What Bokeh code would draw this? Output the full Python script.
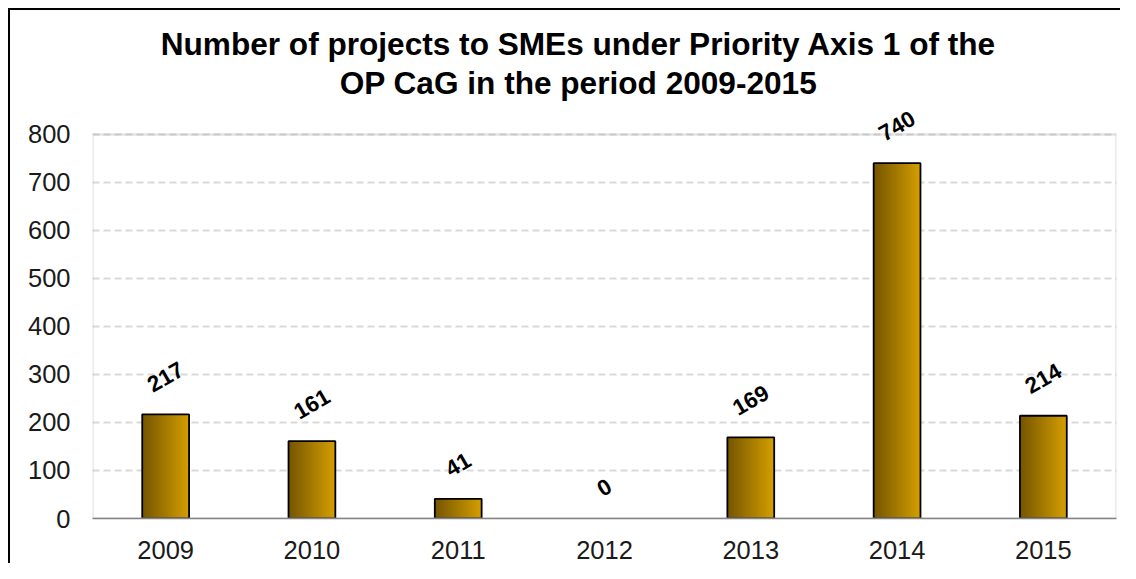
from bokeh.plotting import figure
from bokeh.models import (ColumnDataSource, FactorRange, Range1d, LabelSet, Label,
                          CDSView, BooleanFilter, BoxAnnotation)
from bokeh.transform import dodge
from bokeh.embed import file_html
from bokeh.resources import INLINE
from bokeh.core.properties import value

# ---- data ----
years = ["2009", "2010", "2011", "2012", "2013", "2014", "2015"]
projects = [217, 161, 41, 0, 169, 740, 214]
y_ticks = [0, 100, 200, 300, 400, 500, 600, 700, 800]
title_lines = ["Number of projects to SMEs under Priority Axis 1 of the",
               "OP CaG in the period 2009-2015"]

FONT = "Liberation Sans"
labels = [str(v) for v in projects]
# offset so that the rotated label's bounding box sits ~20px above the bar
yoff = [20.5 + (len(s) * 6.3 + 14.3) / 2 for s in labels]

src = ColumnDataSource(dict(year=years, value=projects, label=labels, yoff=yoff))

p = figure(x_range=FactorRange(*years), y_range=Range1d(0, 1058),
           width=1110, height=553, output_backend="svg", toolbar_location=None,
           min_border_left=82, min_border_right=14, min_border_top=0, min_border_bottom=55,
           background_fill_color="white", border_fill_color="white",
           styles={"box-sizing": "content-box",
                   "padding-left": "10px", "padding-top": "10px",
                   "background": "linear-gradient(#000,#000) 8px 8px / 2px 100% no-repeat, "
                                 "linear-gradient(#000,#000) 8px 8px / 100% 2px no-repeat, #ffffff"})
p.title = None

# gradient bars: overlapping slices, each from its left edge to the bar's right edge
BAR_W = 0.32
N = 40
left_rgb = (118, 86, 0)
right_rgb = (212, 158, 0)
for k in range(N):
    t = k / (N - 1)
    col = "#%02x%02x%02x" % tuple(int(round(a + (b - a) * t)) for a, b in zip(left_rgb, right_rgb))
    x_left = -BAR_W / 2 + BAR_W * k / N
    w = BAR_W / 2 - x_left
    p.vbar(x=dodge("year", x_left + w / 2, range=p.x_range), top="value", width=w,
           source=src, fill_color=col, line_color=None)

view = CDSView(filter=BooleanFilter([v > 0 for v in projects]))
p.vbar(x="year", top="value", width=BAR_W, source=src, view=view,
       fill_color=None, line_color="black", line_width=1.8)

# plot-area border (0..800)
p.add_layout(BoxAnnotation(bottom=0, top=800, fill_color=None, fill_alpha=0,
                           line_color="#a6a6a6", line_width=2.5, level="guide"))

# value labels
p.add_layout(LabelSet(x="year", y="value", text="label", source=src,
                      y_offset="yoff", angle=30, angle_units="deg",
                      text_align="center", text_baseline="middle",
                      text_font=value(FONT), text_font_style="bold", text_font_size="22.5px",
                      text_color="black"))

# title (two centred lines)
p.add_layout(Label(x=486, y=474.5, x_units="screen", y_units="screen", text=title_lines[0],
                   text_align="center", text_baseline="alphabetic",
                   text_font=FONT, text_font_style="bold", text_font_size="31.6px", text_color="black"))
p.add_layout(Label(x=486, y=436, x_units="screen", y_units="screen", text=title_lines[1],
                   text_align="center", text_baseline="alphabetic",
                   text_font=FONT, text_font_style="bold", text_font_size="31.6px", text_color="black"))

# axes
p.yaxis.ticker = y_ticks
p.yaxis.axis_line_color = None
p.yaxis.major_label_standoff = 22
p.xaxis.axis_line_color = "#7f7f7f"
p.xaxis.axis_line_width = 1.5
p.xaxis.major_label_standoff = 22
for ax in (p.xaxis, p.yaxis):
    ax.major_tick_line_color = None
    ax.minor_tick_line_color = None
    ax.major_tick_out = 0
    ax.major_tick_in = 0
    ax.major_label_text_font = FONT
    ax.major_label_text_font_size = "25.5px"
    ax.major_label_text_color = "#1a1a1a"

p.xgrid.visible = False
p.ygrid.grid_line_color = "#d9d9d9"
p.ygrid.grid_line_dash = "7 4"
p.ygrid.grid_line_width = 2

p.outline_line_color = None

open("out.html", "w").write(file_html(p, INLINE))
